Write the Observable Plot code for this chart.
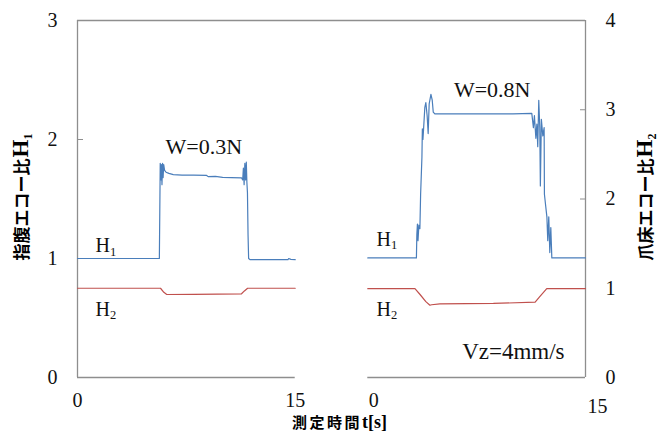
<!DOCTYPE html>
<html><head><meta charset="utf-8">
<script src="https://cdn.jsdelivr.net/npm/d3@7"></script>
<script src="https://cdn.jsdelivr.net/npm/@observablehq/plot@0.6"></script>
<style>body{margin:0;background:#fff}</style>
</head><body><div id="chart"></div>
<script>
// ---- data ----
const timeTicks = [0, 15];            // each panel: t[s]
const leftTicks = [0, 1, 2, 3];       // 指腹エコー比 H1
const rightTicks = [0, 1, 2, 3, 4];   // 爪床エコー比 H2
const panelOffset = {left: 0, right: 20};

// W=0.3N panel
const h1Left = [[0,1.0],[5.64,1.0],[5.67,1.40],[5.70,1.80],[5.74,1.66],[5.78,1.79],[5.82,1.62],[5.86,1.80],[5.90,1.68],[5.94,1.79],[6.0,1.74],[6.1,1.725],[6.3,1.715],[6.6,1.705],[7.2,1.70],[8.0,1.70],[8.9,1.698],[9.0,1.688],[9.5,1.69],[10.0,1.682],[10.6,1.68],[11.3,1.678],[11.38,1.66],[11.43,1.76],[11.48,1.62],[11.53,1.80],[11.58,1.66],[11.63,1.81],[11.67,1.64],[11.71,1.55],[11.75,1.20],[11.79,1.0],[11.9,0.99],[13.0,0.99],[14.5,0.99],[14.55,1.0],[14.7,0.993],[15,0.99]];
const h2Left = [[0,1.0],[5.72,1.0],[5.95,0.955],[6.15,0.93],[8,0.931],[11.3,0.938],[11.5,0.97],[11.72,1.0],[15,1.0]];

// W=0.8N panel
const h1Right = [[0,1.005],[3.35,1.005],[3.38,1.20],[3.42,1.29],[3.46,1.15],[3.52,1.28],[3.59,1.25],[3.64,1.54],[3.73,1.85],[3.76,2.09],[3.80,2.00],[3.84,2.08],[3.93,2.27],[4.00,2.31],[4.09,2.20],[4.16,2.05],[4.23,2.30],[4.35,2.38],[4.44,2.33],[4.51,2.23],[4.62,2.215],[6,2.215],[8,2.215],[10,2.215],[11.30,2.22],[11.41,2.10],[11.48,2.20],[11.58,2.01],[11.65,2.13],[11.71,1.94],[11.78,2.33],[11.85,2.10],[11.89,1.61],[11.96,2.17],[12.06,2.03],[12.15,2.10],[12.17,1.54],[12.24,1.46],[12.34,1.35],[12.40,1.15],[12.47,1.35],[12.54,1.05],[12.61,1.26],[12.68,1.005],[15,1.005]];
const h2Right = [[0,0.995],[3.25,0.995],[3.6,0.93],[4.0,0.85],[4.28,0.81],[4.4,0.815],[4.97,0.826],[8.65,0.83],[11.53,0.844],[11.82,0.90],[12.33,0.995],[15,0.995]];

// ---- styling ----
const blue = "#4a7ebb", red = "#c0504d", grey = "#8e8e8e";
const serif = "'Liberation Serif', 'Times New Roman', serif", cjk = "'Noto Sans CJK JP', sans-serif";
const ratio = leftTicks[leftTicks.length - 1] / rightTicks[rightTicks.length - 1];
const rows = (pairs, panel) => pairs.map(([t, v]) => ({x: t + panelOffset[panel], v}));
const panels = Object.values(panelOffset).map(o => ({x1: timeTicks[0] + o, x2: timeTicks[1] + o}));
const xMax = timeTicks[1] + panelOffset.right;
const ax = {fontSize: 20, label: null, fill: "#111"};

const svg = Plot.plot({
  width: 672, height: 434,
  marginLeft: 77, marginRight: 87, marginTop: 20, marginBottom: 57,
  style: {fontSize: "20px", color: "#111", background: "#fff"},
  x: {domain: [0, xMax], label: null},
  y: {domain: [0, leftTicks[leftTicks.length - 1]], label: null},
  marks: [
    // frame
    Plot.ruleY([leftTicks[leftTicks.length - 1]], {stroke: grey, strokeWidth: 1.3}),
    Plot.ruleX([0, xMax], {stroke: grey, strokeWidth: 1.3}),
    Plot.ruleY(panels, {y: () => 0, x1: "x1", x2: "x2", stroke: grey, strokeWidth: 1.3}),
    // inward ticks
    Plot.axisY({anchor: "left", ticks: [1, 2], tickSize: -6, tickFormat: () => "", stroke: grey, label: null}),
    Plot.axisY({anchor: "right", ticks: [2, 3].map(d => d * ratio), tickSize: -6, tickFormat: () => "", stroke: grey, label: null}),
    // tick labels
    Plot.axisY({...ax, anchor: "left", ticks: leftTicks, tickFormat: d => String(d), tickSize: 0, tickPadding: 20}),
    Plot.axisY({...ax, anchor: "right", ticks: rightTicks.map(d => d * ratio), tickFormat: d => String(Math.round(d / ratio)), tickSize: 0, tickPadding: 20}),
    Plot.axisX({...ax, ticks: timeTicks, tickFormat: d => String(d), tickSize: 0, tickPadding: 15}),
    Plot.axisX({...ax, ticks: [timeTicks[0] + panelOffset.right], tickFormat: d => String(d - panelOffset.right), tickSize: 0, tickPadding: 15, dx: 6}),
    Plot.axisX({...ax, ticks: [timeTicks[1] + panelOffset.right], tickFormat: d => String(d - panelOffset.right), tickSize: 0, tickPadding: 15, dx: 12, dy: 6.5}),
    // series
    Plot.line(rows(h2Left, "left"), {x: "x", y: d => d.v * ratio, stroke: red, strokeWidth: 1.2}),
    Plot.line(rows(h2Right, "right"), {x: "x", y: d => d.v * ratio, stroke: red, strokeWidth: 1.2}),
    Plot.line(rows(h1Left, "left"), {x: "x", y: "v", stroke: blue, strokeWidth: 1.2}),
    Plot.line(rows(h1Right, "right"), {x: "x", y: "v", stroke: blue, strokeWidth: 1.2}),
    // annotations
    Plot.text([{x: 8.7, y: 1.882, s: "W=0.3N"}, {x: 28.57, y: 2.357, s: "W=0.8N"}],
      {x: "x", y: "y", text: "s", textAnchor: "middle", lineAnchor: "bottom", fontSize: 22, fill: "#111"}),
    Plot.text([{x: 26.5, y: 0.157, s: "Vz=4mm/s"}],
      {x: "x", y: "y", text: "s", textAnchor: "start", lineAnchor: "bottom", fontSize: 23, fill: "#111"}),
    Plot.text([{x: 1.24, y: 1.053, s: "H_1"}, {x: 1.24, y: 0.521, s: "H_2"}, {x: 20.6, y: 1.109, s: "H_1"}, {x: 20.6, y: 0.521, s: "H_2"}],
      {x: "x", y: "y", text: "s", textAnchor: "start", lineAnchor: "bottom", fontSize: 20, fill: "#111"}),
    // axis titles
    Plot.text(["指腹エコー比_H_1"], {frameAnchor: "left", rotate: -90, textAnchor: "start", dx: -55, dy: 61.5, fontSize: 17, fill: "#000"}),
    Plot.text(["爪床エコー比_H_2"], {frameAnchor: "right", rotate: -90, textAnchor: "start", dx: 61, dy: 61.5, fontSize: 17, fill: "#000"}),
    Plot.text(["測定時間_t[s]"], {frameAnchor: "bottom", textAnchor: "start", lineAnchor: "bottom", dx: -39.5, dy: 50, fontSize: 17, fill: "#000"})
  ]
});

// rich text (subscripts, mixed fonts); every other text wrapped as a serif tspan
const rich = {
  "H_1": [{t: "H"}, {t: "1", size: 12.5, dy: 3.5}],
  "H_2": [{t: "H"}, {t: "2", size: 12.5, dy: 3.5}],
  "指腹エコー比_H_1": [{t: "指腹エコー比", family: cjk, weight: 700, size: 17}, {t: "H", weight: 700, size: 23, dx: 1}, {t: "1", weight: 700, size: 12, dy: 4}],
  "爪床エコー比_H_2": [{t: "爪床エコー比", family: cjk, weight: 700, size: 17}, {t: "H", weight: 700, size: 23, dx: 1}, {t: "2", weight: 700, size: 12, dy: 4}],
  "測定時間_t[s]": [{t: "測定時間", family: cjk, weight: 700, size: 15, spacing: 2.5}, {t: "t[s]", weight: 700, size: 18}]
};
d3.select(svg).selectAll("text").each(function () {
  const s = this.textContent;
  if (!s) return;
  const spec = rich[s] || [{t: s}];
  const el = d3.select(this).text(null);
  for (const p of spec) {
    const ts = el.append("tspan").text(p.t);
    ts.style("font-family", p.family || serif);
    if (p.weight) ts.style("font-weight", p.weight);
    if (p.size) ts.style("font-size", p.size + "px");
    if (p.spacing) ts.style("letter-spacing", p.spacing + "px");
    if (p.dy) ts.attr("dy", p.dy);
    if (p.dx) ts.attr("dx", p.dx);
  }
});
document.getElementById("chart").append(svg);
</script>
</body></html>
